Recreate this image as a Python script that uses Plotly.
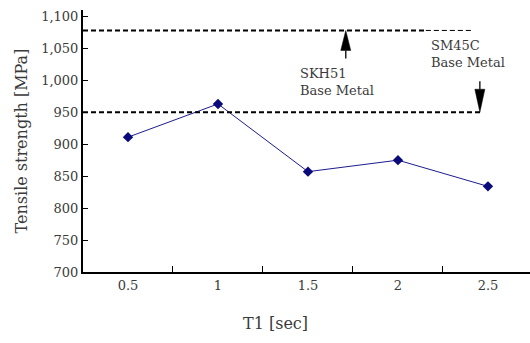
import plotly.graph_objects as go

categories = ["0.5", "1", "1.5", "2", "2.5"]
strength = [911, 963, 857, 875, 834]
skh51_base = 1078
sm45c_base = 950
y_ticks = [700, 750, 800, 850, 900, 950, 1000, 1050, 1100]
y_tick_text = ["700", "750", "800", "850", "900", "950", "1,000", "1,050", "1,100"]

FONT = "DejaVu Serif"
TXT = "#3a3a3a"
W, H = 530, 343
l, r, t, b = 83, 0, 10, 71
Y0, Y1 = 700, 1110
UPP = (Y1 - Y0) / (H - t - b)   # y units per pixel
CPP = 1 / 90.0                  # category units per pixel

def px(x, y):
    return (x - l) / (W - l - r), 1 - (y - t) / (H - t - b)

fig = go.Figure()
fig.add_trace(go.Scatter(
    x=categories, y=strength, mode="lines+markers",
    line=dict(color="#1c1c8f", width=1),
    marker=dict(symbol="diamond", size=8, color="#0a0a7a"),
    showlegend=False,
))

# base-metal reference lines
fig.add_shape(type="line", xref="x", yref="y", x0=-0.5, x1=3.31, y0=skh51_base, y1=skh51_base,
              line=dict(color="black", width=2, dash="5px,3px"))
fig.add_shape(type="line", xref="x", yref="y", x0=3.31, x1=3.84, y0=skh51_base, y1=skh51_base,
              line=dict(color="black", width=1, dash="5px,3px"))
fig.add_shape(type="line", xref="x", yref="y", x0=-0.5, x1=3.94, y0=sm45c_base, y1=sm45c_base,
              line=dict(color="black", width=2, dash="5px,3px"))

def arrow(xc, tip, direction, head_px=21, tail_px=7, half_w_px=5):
    # direction +1: pointing up (tip above), -1: pointing down
    base = tip - direction * head_px * UPP
    tail = base - direction * tail_px * UPP
    hw = half_w_px * CPP
    fig.add_shape(type="path", xref="x", yref="y",
                  path=f"M {xc - hw} {base} L {xc + hw} {base} L {xc} {tip} Z",
                  fillcolor="black", line=dict(color="black", width=0.5))
    fig.add_shape(type="line", xref="x", yref="y", x0=xc, x1=xc, y0=base, y1=tail,
                  line=dict(color="black", width=1.3))

arrow(2.42, skh51_base, +1, head_px=20, tail_px=8)
arrow(3.91, sm45c_base, -1, head_px=23, tail_px=8)

x1, y1 = px(298, 82)
fig.add_annotation(x=x1, y=y1, xref="paper", yref="paper", text="SKH51<br>Base Metal", showarrow=False,
                   xanchor="left", yanchor="middle", align="left", font=dict(family=FONT, size=13, color=TXT))
x2, y2 = px(429, 54)
fig.add_annotation(x=x2, y=y2, xref="paper", yref="paper", text="SM45C<br>Base Metal", showarrow=False,
                   xanchor="left", yanchor="middle", align="left", font=dict(family=FONT, size=13, color=TXT))
x3, y3 = px(275, 323)
fig.add_annotation(x=x3, y=y3, xref="paper", yref="paper", text="T1 [sec]", showarrow=False,
                   xanchor="center", yanchor="middle", font=dict(family=FONT, size=16, color=TXT))

fig.update_layout(
    width=W, height=H,
    margin=dict(l=l, r=r, t=t, b=b),
    paper_bgcolor="white", plot_bgcolor="white",
    font=dict(family=FONT, size=13, color=TXT),
    xaxis=dict(type="category", range=[-0.5, 4.467], showline=True, linecolor="black", linewidth=2,
               ticks="inside", ticklen=6, tickcolor="black", tickson="boundaries", showgrid=False,
               zeroline=False, tickfont=dict(family=FONT, size=13, color=TXT)),
    yaxis=dict(range=[Y0, Y1], tickvals=y_ticks, ticktext=y_tick_text, showline=True, linecolor="black",
               linewidth=2, ticks="inside", ticklen=5, tickcolor="black", showgrid=False, zeroline=False,
               tickfont=dict(family=FONT, size=13, color=TXT),
               title=dict(text="Tensile strength [MPa]", font=dict(family=FONT, size=16, color=TXT), standoff=10)),
)
fig.write_html("out.html")
